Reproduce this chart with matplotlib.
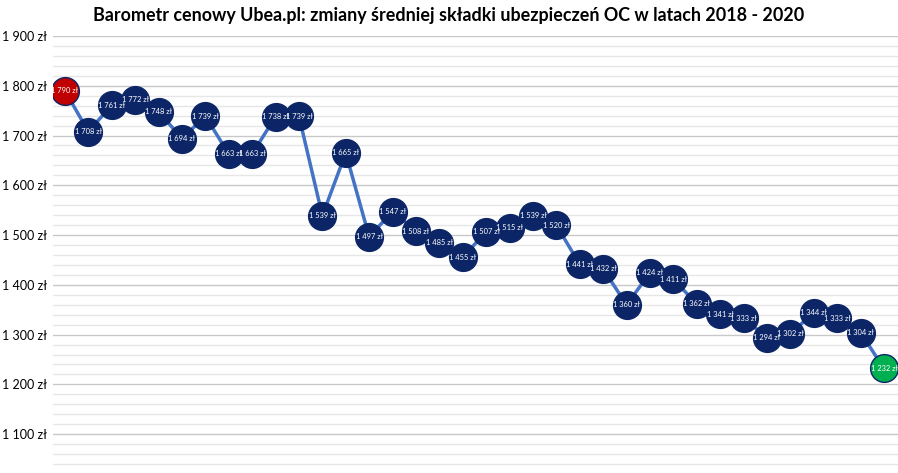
import matplotlib
matplotlib.use('Agg')
import matplotlib.pyplot as plt
from matplotlib.ticker import MultipleLocator, FuncFormatter

# average OC premium, monthly 2018 - 2020
values = [1790, 1708, 1761, 1772, 1748, 1694, 1739, 1663, 1663, 1738, 1739, 1539,
          1665, 1497, 1547, 1508, 1485, 1455, 1507, 1515, 1539, 1520, 1441, 1432,
          1360, 1424, 1411, 1362, 1341, 1333, 1294, 1302, 1344, 1333, 1304, 1232]
title = 'Barometr cenowy Ubea.pl: zmiany średniej składki ubezpieczeń OC w latach 2018 - 2020'


def zl(v, pos=None):
    s = f'{int(v):,}'.replace(',', ' ')
    return s + ' zł'


plt.rcParams['font.family'] = ['Lato', 'DejaVu Sans']

fig = plt.figure(figsize=(8.98, 4.73), dpi=100)
ax = fig.add_axes([53 / 898, 0, 1 - 53 / 898, 1 - 36 / 473])

x = list(range(len(values)))
ax.plot(x, values, color='#4472C4', lw=2.5, zorder=2)

colors = ['#0B2566'] * len(values)
colors[0] = '#C00000'
colors[-1] = '#00B050'
for i, v in enumerate(values):
    ax.plot(i, v, 'o', ms=20, mfc=colors[i], mec='#0B2566', mew=1.0, zorder=3)
    ax.text(i, v, zl(v), color='white', fontsize=5.4, ha='center', va='center', zorder=4)

ax.set_xlim(-0.51, 35.6)
ax.set_ylim(1022, 1900)
ax.yaxis.set_major_locator(MultipleLocator(100))
ax.yaxis.set_minor_locator(MultipleLocator(20))
ax.yaxis.set_major_formatter(FuncFormatter(zl))
ax.grid(which='major', axis='y', color='#c8c8c8', lw=1.0, zorder=0)
ax.grid(which='minor', axis='y', color='#e6e6e6', lw=1.0, zorder=0)
ax.set_axisbelow(True)
ax.set_xticks([])
ax.tick_params(axis='y', which='both', length=0, labelsize=9, pad=4)
for s in ax.spines.values():
    s.set_visible(False)

fig.text(0.5, 1 - 16 / 473, title, ha='center', va='center', fontsize=12.9, fontweight='bold')

plt.savefig('out.png', dpi=100)
plt.close()
